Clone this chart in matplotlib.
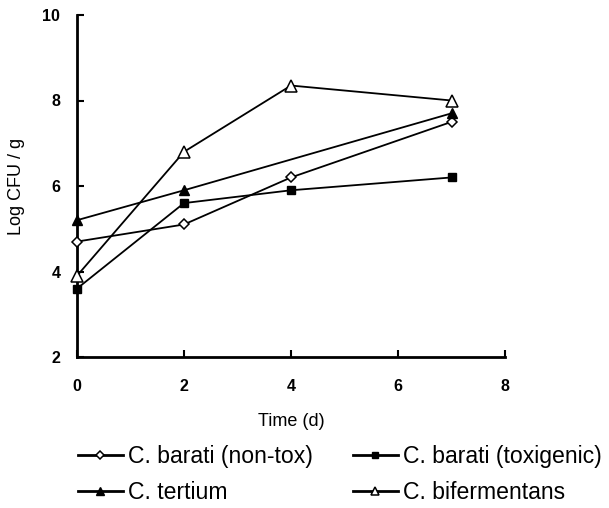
import matplotlib
matplotlib.use("Agg")
import matplotlib.pyplot as plt

plt.rcParams['font.family'] = ['Liberation Sans', 'DejaVu Sans']

days_full = [0, 2, 4, 7]
days_tertium = [0, 2, 7]
nontox = [4.7, 5.1, 6.2, 7.5]
toxigenic = [3.6, 5.6, 5.9, 6.2]
tertium = [5.2, 5.9, 7.7]
bifermentans = [3.9, 6.8, 8.35, 8.0]
xticks = [0, 2, 4, 6, 8]
yticks = [2, 4, 6, 8, 10]

W, H = 609, 508
fig = plt.figure(figsize=(W / 100, H / 100), dpi=100)
ax = fig.add_axes([77 / W, 1 - 357 / H, (505 - 77) / W, (357 - 15) / H])

lw = 1.3
h1, = ax.plot(days_full, nontox, color='black', lw=lw, marker='D', markersize=5.5,
              markerfacecolor='white', markeredgecolor='black', markeredgewidth=1.1,
              label='C. barati (non-tox)', clip_on=False, zorder=3)
h2, = ax.plot(days_full, toxigenic, color='black', lw=lw, marker='s', markersize=6,
              markerfacecolor='black', markeredgecolor='black',
              label='C. barati (toxigenic)', clip_on=False, zorder=3)
h3, = ax.plot(days_tertium, tertium, color='black', lw=lw, marker='^', markersize=7,
              markerfacecolor='black', markeredgecolor='black',
              label='C. tertium', clip_on=False, zorder=3)
h4, = ax.plot(days_full, bifermentans, color='black', lw=lw, marker='^', markersize=8,
              markerfacecolor='white', markeredgecolor='black', markeredgewidth=1.1,
              label='C. bifermentans', clip_on=False, zorder=3)

ax.set_xlim(0, 8)
ax.set_ylim(2, 10)
ax.set_xticks(xticks)
ax.set_yticks(yticks)
ax.spines['top'].set_visible(False)
ax.spines['right'].set_visible(False)
ax.spines['left'].set_linewidth(2)
ax.spines['bottom'].set_linewidth(2)
ax.tick_params(direction='in', length=5, width=1.5, labelsize=11.5)
ax.tick_params(axis='x', pad=16)
ax.tick_params(axis='y', pad=12)
for lab in ax.get_xticklabels() + ax.get_yticklabels():
    lab.set_fontweight('bold')

ax.set_xlabel('Time (d)', fontsize=13)
ax.xaxis.set_label_coords(0.5, -(413 - 357) / (357 - 15))
ax.set_ylabel('Log CFU / g', fontsize=13)
ax.yaxis.set_label_coords(-(77 - 25) / (505 - 77), 0.5)

common = dict(frameon=False, fontsize=16.6, handlelength=1.95, handletextpad=0.2,
              labelspacing=0.56, borderpad=0, borderaxespad=0, markerscale=0.8,
              loc='center left')
leg1 = fig.legend([h1, h3], ['C. barati (non-tox)', 'C. tertium'],
                  bbox_to_anchor=(78 / W, 1 - 474.5 / H), **common)
leg2 = fig.legend([h2, h4], ['C. barati (toxigenic)', 'C. bifermentans'],
                  bbox_to_anchor=(353 / W, 1 - 474.5 / H), **common)
for leg in (leg1, leg2):
    for line in leg.get_lines():
        line.set_linewidth(2)

fig.savefig('out.png', dpi=100)
